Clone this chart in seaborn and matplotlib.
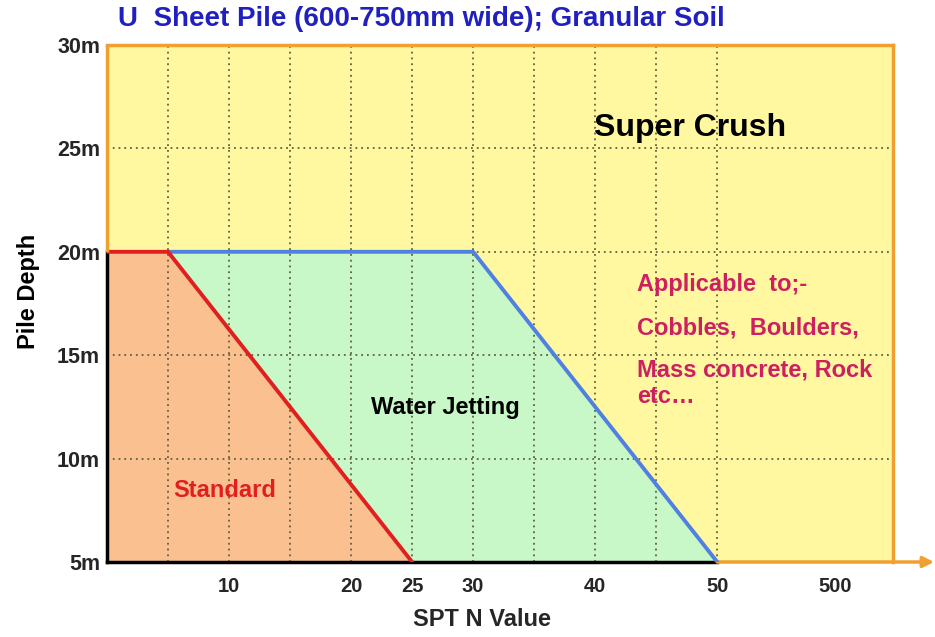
import matplotlib
matplotlib.use("Agg")
import matplotlib.pyplot as plt
import seaborn as sns
import numpy as np
import pandas as pd

# boundary lines (SPT N value vs pile depth in m)
standard_n = [0, 5, 25]
standard_depth = [20, 20, 5]
jetting_n = [5, 30, 50]
jetting_depth = [20, 20, 5]

# x axis: linear up to 50, then the "500" label sits past the break
x_tick_pos = [10, 20, 25, 30, 40, 50, 59.7]
x_tick_labels = ["10", "20", "25", "30", "40", "50", "500"]
y_tick_pos = [5, 10, 15, 20, 25, 30]
y_tick_labels = ["5m", "10m", "15m", "20m", "25m", "30m"]
grid_n = [5, 10, 15, 20, 25, 30, 35, 40, 45, 50]
grid_depth = [10, 15, 20, 25]

applicable_lines = ["Applicable  to;-", "Cobbles,  Boulders,", "Mass concrete, Rock", "etc…"]
applicable_depth = [18.4, 16.3, 14.3, 13.0]

YELLOW = "#FFF8A0"
PEACH = "#FAC090"
GREEN = "#C8F8C8"
ORANGE = "#F0A030"
RED = "#E02020"
BLUE = "#5080E0"
GRID = "#606040"

sns.set_theme(style="white")
plt.rcParams["font.family"] = ["Liberation Sans", "DejaVu Sans"]

fig = plt.figure(figsize=(9.35, 6.37), dpi=100)
ax = fig.add_axes([107 / 935, 1 - 562 / 637, (893 - 107) / 935, (562 - 45) / 637])
ax.set_facecolor(YELLOW)
ax.set_xlim(0, 64.4)
ax.set_ylim(5, 30)

# filled zones
std_poly_x = [0] + standard_n
std_poly_y = [5] + standard_depth
ax.fill(std_poly_x, std_poly_y, color=PEACH, zorder=1, lw=0)
jet_poly_x = jetting_n + standard_n[-1:]
jet_poly_y = jetting_depth + standard_depth[-1:]
ax.fill(jet_poly_x, jet_poly_y, color=GREEN, zorder=1, lw=0)

# dotted grid
ax.vlines(grid_n, 5, 30, color=GRID, linestyle=(0, (1, 2.2)), lw=1.3, zorder=2)
ax.hlines(grid_depth, 0, 64.4, color=GRID, linestyle=(0, (1, 2.2)), lw=1.3, zorder=2)

df_std = pd.DataFrame({"n": standard_n, "depth": standard_depth})
df_jet = pd.DataFrame({"n": jetting_n, "depth": jetting_depth})
sns.lineplot(data=df_jet, x="n", y="depth", color=BLUE, lw=2.8, sort=False, ax=ax, zorder=4)
sns.lineplot(data=df_std, x="n", y="depth", color=RED, lw=2.8, sort=False, ax=ax, zorder=5)

# frame
for s in ["top", "right"]:
    ax.spines[s].set_color(ORANGE)
    ax.spines[s].set_linewidth(2.5)
ax.spines["left"].set_color("black")
ax.spines["left"].set_linewidth(2.5)
ax.spines["left"].set_bounds(5, 20)
ax.spines["bottom"].set_color("black")
ax.spines["bottom"].set_linewidth(2.5)
ax.spines["bottom"].set_bounds(0, 50)
ax.plot([0, 0], [20, 30], color=ORANGE, lw=2.5, clip_on=False, zorder=6, solid_capstyle="butt")
ax.annotate("", xy=(0.999, 1 - 562 / 637), xycoords="figure fraction",
            xytext=(50, 5), textcoords="data",
            arrowprops=dict(arrowstyle="-|>", color=ORANGE, lw=2.5, mutation_scale=16,
                            shrinkA=0, shrinkB=0), annotation_clip=False)

ax.set_xticks(x_tick_pos)
ax.set_xticklabels(x_tick_labels, fontsize=14.5, fontweight="bold", color="#262626")
ax.set_yticks(y_tick_pos)
ax.set_yticklabels(y_tick_labels, fontsize=15.5, fontweight="bold", color="#262626")
ax.tick_params(axis="x", length=0, pad=11)
ax.tick_params(axis="y", length=0, pad=5)

ax.set_xlabel("SPT N Value", fontsize=17, fontweight="bold", color="#262626", va="center")
ax.xaxis.set_label_coords((482 - 107) / (893 - 107), -(620 - 562) / (562 - 45))
ax.set_ylabel("Pile Depth", fontsize=17, fontweight="bold", color="black", va="center")
ax.yaxis.set_label_coords(-(107 - 28) / (893 - 107), (562 - 291) / (562 - 45))

fig.text(118 / 935, 1 - 19 / 637, "U  Sheet Pile (600-750mm wide); Granular Soil",
         fontsize=20, fontweight="bold", color="#2020C0", ha="left", va="center")

ax.text(47.8, 26.0, "Super Crush", fontsize=23, fontweight="bold", color="black",
        ha="center", va="center", zorder=7)
ax.text(27.7, 12.45, "Water Jetting", fontsize=17, fontweight="bold", color="black",
        ha="center", va="center", zorder=7)
ax.text(9.67, 8.48, "Standard", fontsize=17, fontweight="bold", color=RED,
        ha="center", va="center", zorder=7)
for line, d in zip(applicable_lines, applicable_depth):
    ax.text(43.4, d, line, fontsize=17, fontweight="bold", color="#CC2060",
            ha="left", va="center", zorder=7)

fig.savefig("out.png", dpi=100)
